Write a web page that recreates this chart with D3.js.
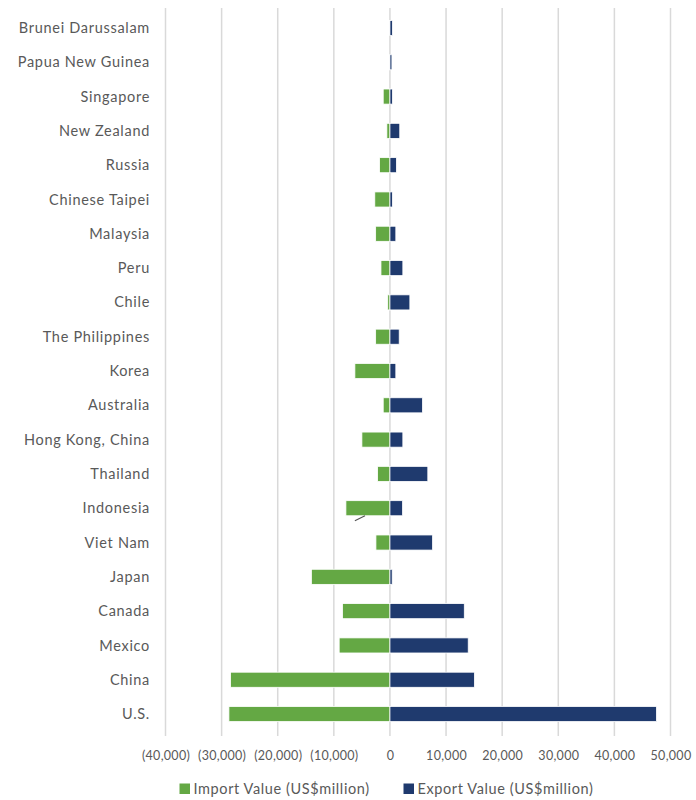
<!DOCTYPE html>
<html>
<head>
<meta charset="utf-8">
<script src="https://cdn.jsdelivr.net/npm/d3@7"></script>
<style>
  html, body { margin: 0; padding: 0; background: #fff; }
  svg { display: block; }
  text { font-family: Lato, "Open Sans", sans-serif; fill: #595959; }
</style>
</head>
<body>
<svg id="chart" width="696" height="800"></svg>
<script>
const categories = ["Brunei Darussalam","Papua New Guinea","Singapore","New Zealand","Russia","Chinese Taipei","Malaysia","Peru","Chile","The Philippines","Korea","Australia","Hong Kong, China","Thailand","Indonesia","Viet Nam","Japan","Canada","Mexico","China","U.S."];
const importValues = [-100,-100,-1200,-550,-1850,-2700,-2550,-1600,-400,-2550,-6250,-1200,-5000,-2200,-7850,-2500,-14000,-8450,-9050,-28400,-28700];
const exportValues = [450,350,450,1750,1150,450,1050,2300,3550,1650,1050,5800,2300,6750,2250,7600,400,13250,13950,15050,47500];
const tickValues = [-40000,-30000,-20000,-10000,0,10000,20000,30000,40000,50000];
const seriesNames = ["Import Value (US$million)","Export Value (US$million)"];
const seriesColors = ["#64a844","#1f3a6e"];

const svg = d3.select("#chart");
const plotLeft = 165.5, plotRight = 670.5, plotTop = 10.8, plotBottom = 731.2;

const x = d3.scaleLinear().domain([-40000, 50000]).range([plotLeft, plotRight]);
const y = d3.scaleBand().domain(categories).range([plotTop, plotBottom]).paddingInner(0.56).paddingOuter(0.28);

// gridlines
svg.append("g").selectAll("line").data(tickValues).join("line")
  .attr("x1", d => x(d)).attr("x2", d => x(d))
  .attr("y1", 8).attr("y2", 736)
  .attr("stroke", "#d9d9d9").attr("stroke-width", 1.5);

// bars
const rows = categories.map((c, i) => ({c, imp: importValues[i], exp: exportValues[i]}));
const bars = svg.append("g");
bars.selectAll("rect.imp").data(rows).join("rect").attr("class","imp")
  .attr("x", d => x(d.imp)).attr("width", d => x(0) - x(d.imp))
  .attr("y", d => y(d.c)).attr("height", y.bandwidth())
  .attr("fill", seriesColors[0]).attr("stroke", "#fff").attr("stroke-width", 0.8);
bars.selectAll("rect.exp").data(rows).join("rect").attr("class","exp")
  .attr("x", x(0)).attr("width", d => x(d.exp) - x(0))
  .attr("y", d => y(d.c)).attr("height", y.bandwidth())
  .attr("fill", seriesColors[1]).attr("stroke", "#fff").attr("stroke-width", 0.8);

// small leader-line artifact near Indonesia
svg.append("line")
  .attr("x1", x(-6250)).attr("x2", x(-4450))
  .attr("y1", y("Indonesia") + y.bandwidth() + 5).attr("y2", y("Indonesia") + y.bandwidth())
  .attr("stroke", "#555").attr("stroke-width", 1.2);

// category labels
const fmt = d => d < 0 ? "(" + d3.format(",")(-d) + ")" : d3.format(",")(d);
const yAxis = d3.axisLeft(y).tickSize(0).tickPadding(0);
const yg = svg.append("g").attr("transform", `translate(150,0)`).call(yAxis);
yg.select(".domain").remove();
yg.selectAll("text").style("font-family", "Lato, sans-serif").style("font-size", "14.5px")
  .style("letter-spacing", "0.7px").attr("fill", "#595959").attr("dy", "0.35em");

// x axis
const xAxis = d3.axisBottom(x).tickValues(tickValues).tickFormat(fmt).tickSize(0).tickPadding(0);
const xg = svg.append("g").attr("transform", `translate(0,756)`).call(xAxis);
xg.select(".domain").remove();
xg.selectAll("text").style("font-family", "Lato, sans-serif").style("font-size", "12.5px")
  .style("letter-spacing", "0.3px").attr("fill", "#595959").attr("dy", "0.35em");

// legend
const legend = svg.append("g");
const legendX = [179.5, 403.5];
seriesNames.forEach((n, i) => {
  legend.append("rect").attr("x", legendX[i]).attr("y", 783.5).attr("width", 10.5).attr("height", 10.5).attr("fill", seriesColors[i]);
  legend.append("text").attr("x", legendX[i] + 14).attr("y", 789).attr("dy", "0.35em")
    .style("font-size", "14.5px").style("letter-spacing", "0.6px").text(n);
});
</script>
</body>
</html>
